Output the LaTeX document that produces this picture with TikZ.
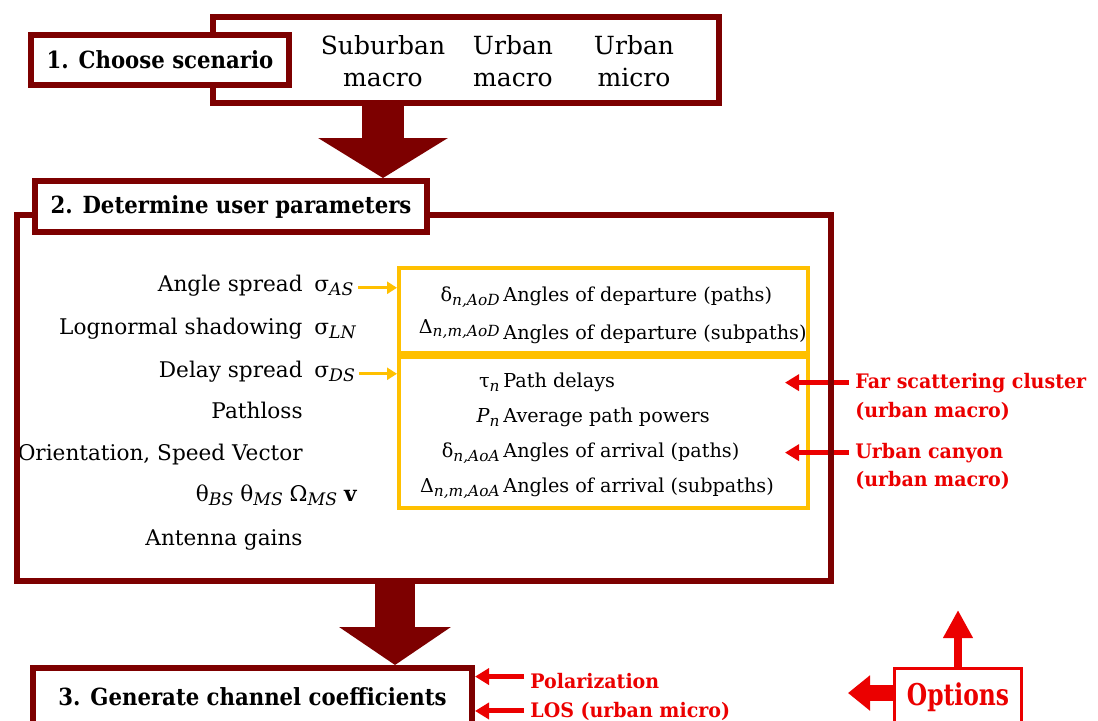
\documentclass[tikz,border=0pt]{standalone}
\usepackage{fontspec}
\usepackage{graphicx}
\setmainfont{DejaVu Serif}
\newfontfamily\headfont[FakeStretch=0.9]{DejaVu Serif}
\newfontfamily\notefont[FakeStretch=0.95]{DejaVu Serif}
\newfontfamily\optfont[FakeStretch=0.78]{DejaVu Serif}
\usetikzlibrary{arrows.meta,positioning}
\definecolor{darkred}{RGB}{125,0,0}
\definecolor{gold}{RGB}{255,192,0}
\definecolor{optred}{RGB}{235,0,0}
\newcommand\idx[1]{\raisebox{-0.4ex}{\scalebox{0.8}{\itshape #1}}}

\begin{document}
\begin{tikzpicture}
        [x=0.5pt, y=-0.5pt,
        stepbox/.style={draw=darkred, line width=3pt, fill=white, inner sep=0pt, font=\headfont\bfseries\fontsize{11.8}{14}\selectfont},
        ybox/.style={draw=gold, line width=2pt, minimum width=204.5pt},
        param/.style={anchor=base east, inner sep=0pt, font=\fontsize{10.8}{13}\selectfont},
        sym/.style={anchor=base west, inner sep=0pt, font=\fontsize{10.8}{13}\selectfont},
        ysym/.style={anchor=base east, inner sep=0pt, font=\fontsize{9.6}{11}\selectfont},
        ytext/.style={anchor=base west, inner sep=0pt, font=\fontsize{9.6}{11}\selectfont},
        note/.style={anchor=base west, inner sep=0pt, text=optred, font=\notefont\bfseries\fontsize{10}{12}\selectfont},
        bigarrow/.style={darkred, line width=21pt, -{Triangle[width=64pt,length=20pt]}},
        yarrow/.style={gold, line width=1.5pt, -{Triangle[width=6pt,length=5pt]}},
        redarrow/.style={optred, line width=2.5pt, -{Triangle[width=8pt,length=7pt]}}]
        \useasboundingbox (0,0) rectangle (1098,720);
        \clip (0,0) rectangle (1098,720);
        % step 1
        \node[stepbox, fill=none, minimum width=253pt, minimum height=43pt] (scen) at (466,60) {};
        \node[stepbox, minimum width=129pt, minimum height=25pt] (choose) at (160,60) {1. Choose scenario};
        \node[align=center, font=\fontsize{12.5}{16}\selectfont] (suburban) at (383,61) {Suburban\\macro};
        \node[align=center, font=\fontsize{12.5}{16}\selectfont] (umacro) at (513,61) {Urban\\macro};
        \node[align=center, font=\fontsize{12.5}{16}\selectfont] (umicro) at (634,61) {Urban\\micro};
        % user parameters
        \node[param] (as) at (303,291) {Angle spread};
        \node[param] (ln) at (303,334) {Lognormal shadowing};
        \node[param] (dsp) at (303,377) {Delay spread};
        \node[param] (pl) at (303,418) {Pathloss};
        \node[param] (ori) at (303,460) {Orientation, Speed Vector};
        \node[param] (ang) at (357,501) {θ\idx{BS} θ\idx{MS} Ω\idx{MS} $\mathbf{v}$};
        \node[param] (gain) at (303,545) {Antenna gains};
        \node[sym] (sas) at (314,291) {σ\idx{AS}};
        \node[sym] (sln) at (314,334) {σ\idx{LN}};
        \node[sym] (sds) at (314,377) {σ\idx{DS}};
        % generated parameters
        \node[ybox, minimum height=42.5pt] (yb1) at (603.5,310.5) {};
        \node[ybox, minimum height=75.5pt] (yb2) at (603.5,432.5) {};
        \node[ysym] (dAoD) at (500,301) {δ\idx{n,AoD}};
        \node[ytext] (tAoD) at (503,301) {Angles of departure (paths)};
        \node[ysym] (DAoD) at (500,333) {Δ\idx{n,m,AoD}};
        \node[ytext] (TAoD) at (503,339) {Angles of departure (subpaths)};
        \node[ysym] (tau) at (500,387) {τ\idx{n}};
        \node[ytext] (ttau) at (503,387) {Path delays};
        \node[ysym] (pn) at (500,422) {\textit{P}\idx{n}};
        \node[ytext] (tpn) at (503,422) {Average path powers};
        \node[ysym] (dAoA) at (500,457) {δ\idx{n,AoA}};
        \node[ytext] (tAoA) at (503,457) {Angles of arrival (paths)};
        \node[ysym] (DAoA) at (500,492) {Δ\idx{n,m,AoA}};
        \node[ytext] (TAoA) at (503,492) {Angles of arrival (subpaths)};
        \draw[yarrow] ([xshift=2pt]sas.east) -- (sas.east -| yb1.west);
        \draw[yarrow] ([xshift=2pt]sds.east) -- (sds.east -| yb2.west);
        % options
        \node[note] (far) at (855,388) {Far scattering cluster};
        \node[note] (far2) at (855,417) {(urban macro)};
        \node[note] (canyon) at (855,458) {Urban canyon};
        \node[note] (canyon2) at (855,486) {(urban macro)};
        \draw[redarrow] ([xshift=-3pt]far.west) -- ([xshift=-12.5pt]far.west -| yb2.east);
        \draw[redarrow] ([xshift=-3pt]canyon.west) -- ([xshift=-12.5pt]canyon.west -| yb2.east);
        % step 2
        \node[stepbox, fill=none, minimum width=407pt, minimum height=183pt] (frame) at (424,398) {};
        \node[stepbox, minimum width=196pt, minimum height=25.5pt] (det) at (231,206.5) {2. Determine user parameters};
        \draw[bigarrow] (suburban |- scen.south) -- (suburban |- det.north);
        % step 3
        \node[stepbox, minimum width=219.5pt, minimum height=29pt] (gen) at (252.5,697) {3. Generate channel coefficients};
        \draw[bigarrow, line width=20pt, -{Triangle[width=55pt,length=19pt]}] ([xshift=-40pt]gen.north east |- frame.south) -- ([xshift=-40pt]gen.north east);
        \node[note] (pol) at (530,688) {Polarization};
        \node[note] (los) at (530,717) {LOS (urban micro)};
        \draw[redarrow] ([xshift=-3pt, yshift=2pt]pol.west) -- ([yshift=2pt]pol.west -| gen.east);
        \draw[redarrow] ([xshift=-3pt]los.west) -- (los.west -| gen.east);
        \node[draw=optred, line width=1.5pt, text=optred, minimum width=63.5pt, minimum height=29pt, font=\optfont\bfseries\fontsize{15}{17}\selectfont] (opt) at (958,697) {Options};
        \coordinate (optl) at (848,693);
        \coordinate (optu) at (958,610);
        \draw[optred, line width=8pt, -{Triangle[width=17pt,length=11pt]}] (opt.west |- optl) -- (optl);
        \draw[optred, line width=4pt, -{Triangle[width=14pt,length=14pt]}] (opt.north) -- (optu);
\end{tikzpicture}
\end{document}
